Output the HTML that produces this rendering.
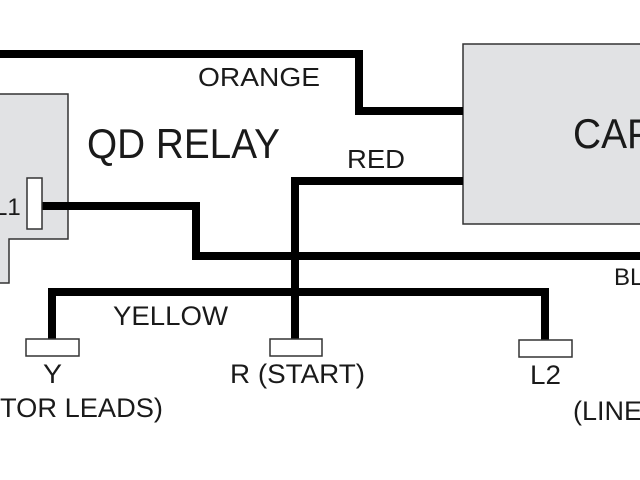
<!DOCTYPE html>
<html><head><meta charset="utf-8"><style>
html,body{margin:0;padding:0;background:#fff;}
svg{display:block;}
text{font-family:"Liberation Sans",sans-serif;fill:#1a1a1a;}
</style></head><body>
<svg width="640" height="480" viewBox="0 0 640 480" xmlns="http://www.w3.org/2000/svg">
<rect width="640" height="480" fill="#fff"/>
<!-- QD relay box -->
<path d="M-2 94 H68 V239 H9 V283 H-2 Z" fill="#e1e2e4" stroke="#333" stroke-width="1.5"/>
<!-- capacitor box -->
<rect x="463" y="44" width="190" height="180" fill="#e1e2e4" stroke="#333" stroke-width="1.5"/>
<!-- wires -->
<g fill="none" stroke="#000" stroke-width="8" stroke-linejoin="miter" stroke-linecap="butt">
<polyline points="0,54 359,54 359,111 463,111"/>
<polyline points="463,181 295,181 295,340"/>
<polyline points="42,206 196,206 196,256 640,256"/>
<polyline points="52,340 52,292 545,292 545,341"/>
</g>
<!-- terminals -->
<rect x="27" y="178" width="15" height="51" fill="#fff" stroke="#333" stroke-width="1.5"/>
<rect x="26" y="339" width="53" height="17" fill="#fff" stroke="#333" stroke-width="1.5"/>
<rect x="270" y="339" width="52" height="17" fill="#fff" stroke="#333" stroke-width="1.5"/>
<rect x="519" y="340" width="53" height="17" fill="#fff" stroke="#333" stroke-width="1.5"/>
<!-- labels -->
<text x="198" y="86" font-size="26" textLength="122" lengthAdjust="spacingAndGlyphs">ORANGE</text>
<text x="87" y="158" font-size="42" textLength="193" lengthAdjust="spacingAndGlyphs">QD RELAY</text>
<text x="347" y="168" font-size="26" textLength="58" lengthAdjust="spacingAndGlyphs">RED</text>
<text x="573" y="148" font-size="42" textLength="80" lengthAdjust="spacingAndGlyphs">CAP</text>
<text x="-6" y="215" font-size="24">L1</text>
<text x="614" y="285" font-size="24">BL</text>
<text x="113" y="325" font-size="27" textLength="115" lengthAdjust="spacingAndGlyphs">YELLOW</text>
<text x="43" y="383" font-size="27" textLength="19" lengthAdjust="spacingAndGlyphs">Y</text>
<text x="230" y="383" font-size="27" textLength="135" lengthAdjust="spacingAndGlyphs">R (START)</text>
<text x="530" y="384" font-size="27" textLength="31" lengthAdjust="spacingAndGlyphs">L2</text>
<text x="0" y="417" font-size="27" textLength="163" lengthAdjust="spacingAndGlyphs">TOR LEADS)</text>
<text x="573" y="420" font-size="27">(LINE</text>
</svg>
</body></html>
